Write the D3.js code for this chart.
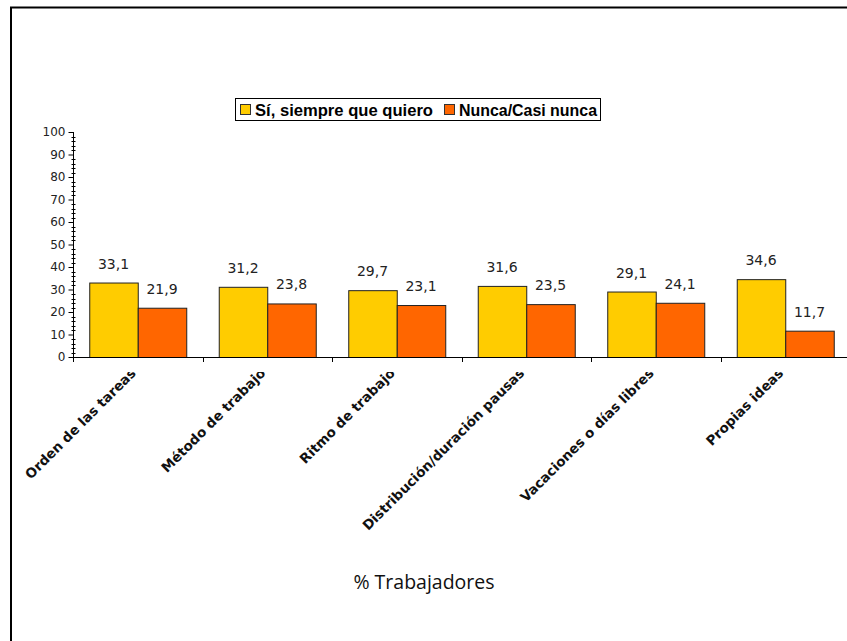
<!DOCTYPE html>
<html>
<head>
<meta charset="utf-8">
<script src="https://cdn.jsdelivr.net/npm/d3@7"></script>
<style>
html,body{margin:0;padding:0;background:#fff;}
svg{display:block;}
</style>
</head>
<body>
<svg id="chart" width="847" height="641"></svg>
<script>
const categories = ["Orden de las tareas","Método de trabajo","Ritmo de trabajo","Distribución/duración pausas","Vacaciones o días libres","Propias ideas"];
const seriesNames = ["Sí, siempre que quiero","Nunca/Casi nunca"];
const siempre = [33.1,31.2,29.7,31.6,29.1,34.6];
const nunca = [21.9,23.8,23.1,23.5,24.1,11.7];
const yTicks = [0,10,20,30,40,50,60,70,80,90,100];
const colors = ["#FFCC00","#FF6600"];
const axisTitle = "% Trabajadores";

(function(){
const svg = d3.select("#chart");
const W = 847, H = 641;
const pLeft = 73, pRight = 850, pTop = 132, pBottom = 357;

// frame
svg.append("path").attr("d", `M11,${H} L11,7.5 L${W},7.5`).attr("fill","none").attr("stroke","#000").attr("stroke-width",2);

const y = d3.scaleLinear().domain([0,100]).range([pBottom, pTop]);
const x = d3.scaleBand().domain(categories).range([pLeft, pRight]).padding(0);
const xs = d3.scaleBand().domain(seriesNames).range([0, x.bandwidth()]).paddingInner(0).paddingOuter(0.335);

const data = categories.map((c,i)=>({cat:c, vals:[siempre[i], nunca[i]]}));

// bars
const g = svg.append("g");
data.forEach(d=>{
  d.vals.forEach((v,j)=>{
    const bx = x(d.cat) + xs(seriesNames[j]);
    g.append("rect")
      .attr("x", bx+0.5).attr("y", y(v)+0.5)
      .attr("width", xs.bandwidth()).attr("height", y(0)-y(v))
      .attr("fill", colors[j]).attr("stroke","#222").attr("stroke-width",1);
    g.append("text")
      .attr("x", bx + xs.bandwidth()/2).attr("y", y(v)-14)
      .attr("text-anchor","middle")
      .attr("font-family","DejaVu Sans, Verdana, sans-serif").attr("font-size",14)
      .attr("fill","#222")
      .text(String(v.toFixed(1)).replace(".",","));
  });
});

// y axis
const yAxis = d3.axisLeft(y).tickValues(yTicks).tickSize(5).tickPadding(3);
const ya = svg.append("g").attr("transform",`translate(${pLeft+0.5},0)`).call(yAxis);
ya.select(".domain").attr("d", `M0,${y(100)}V${y(0)}`).attr("stroke","#000");
ya.selectAll("text").attr("font-family","DejaVu Sans, Verdana, sans-serif").attr("font-size",12).attr("fill","#222");
ya.selectAll(".tick line").attr("stroke","#000");
const minor = d3.range(0,101,2).filter(v=>v%10!==0);
ya.selectAll(".minor").data(minor).enter().append("line")
  .attr("class","minor").attr("x1",-2).attr("x2",2)
  .attr("y1",d=>Math.round(y(d))+0.5).attr("y2",d=>Math.round(y(d))+0.5)
  .attr("stroke","#000");

// x axis
svg.append("line").attr("x1",pLeft).attr("x2",W).attr("y1",pBottom+0.5).attr("y2",pBottom+0.5).attr("stroke","#000");
const boundaries = categories.map(c=>x(c)).concat([x(categories[categories.length-1])+x.bandwidth()]);
svg.selectAll(".xtick").data(boundaries).enter().append("line")
  .attr("x1",d=>Math.round(d)+0.5).attr("x2",d=>Math.round(d)+0.5)
  .attr("y1",pBottom).attr("y2",pBottom+5).attr("stroke","#000");

// category labels with clip
const defs = svg.append("defs");
defs.append("clipPath").attr("id","labclip").append("rect").attr("x",0).attr("y",372).attr("width",W).attr("height",H-372);
const lab = svg.append("g").attr("clip-path","url(#labclip)");
categories.forEach(c=>{
  const cx = x(c) + x.bandwidth()/2 - 1;
  const cy = pBottom + 17;
  lab.append("text")
    .attr("transform",`translate(${cx},${cy}) rotate(-45)`)
    .attr("text-anchor","end")
    .attr("font-family","DejaVu Sans, Verdana, sans-serif").attr("font-weight","bold").attr("font-size",13.5)
    .attr("fill","#111")
    .text(c);
});

// legend
const lg = svg.append("g");
lg.append("rect").attr("x",235.5).attr("y",98.5).attr("width",365).attr("height",22).attr("fill","#fff").attr("stroke","#000");
const legX = [240, 444];
const legW = [178, 138];
seriesNames.forEach((s,j)=>{
  lg.append("rect").attr("x",legX[j]+0.5).attr("y",104.5).attr("width",10).attr("height",10).attr("fill",colors[j]).attr("stroke","#333");
  lg.append("text").attr("x",legX[j]+15).attr("y",115.5)
    .attr("font-family","'Liberation Sans', Arial, sans-serif").attr("font-weight","bold").attr("font-size",16)
    .attr("textLength",legW[j]).attr("lengthAdjust","spacingAndGlyphs")
    .attr("fill","#000").text(s);
});

// axis title
svg.append("text").attr("x",424).attr("y",589).attr("text-anchor","middle")
  .attr("font-family","'Open Sans', 'Noto Sans', sans-serif").attr("font-size",19.5).attr("fill","#111").text(axisTitle);
})();
</script>
</body>
</html>
